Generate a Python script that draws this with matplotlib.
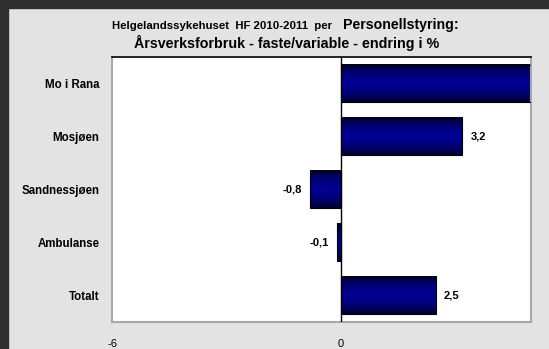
import numpy as np
import matplotlib
matplotlib.use("Agg")
import matplotlib.pyplot as plt
from matplotlib import font_manager
from matplotlib.colors import LinearSegmentedColormap
from matplotlib.patches import Rectangle

categories = ["Mo i Rana", "Mosjøen", "Sandnessjøen", "Ambulanse", "Totalt"]
values = [6.5, 3.2, -0.8, -0.1, 2.5]
value_labels = ["6,5", "3,2", "-0,8", "-0,1", "2,5"]
xticks = [-6, 0]

files = font_manager.findSystemFonts()
fr = [f for f in files if f.endswith('LiberationSans-Regular.ttf')]
fb = [f for f in files if f.endswith('LiberationSans-Bold.ttf')]

def fp(size, bold=False):
    lst = fb if bold else fr
    if lst:
        return font_manager.FontProperties(fname=lst[0], size=size)
    return font_manager.FontProperties(family='DejaVu Sans', size=size, weight='bold' if bold else 'normal')

W, H = 549, 349
fig = plt.figure(figsize=(W / 100, H / 100), dpi=100)
fig.patch.set_facecolor('#e3e3e3')

fig.patches.append(Rectangle((0, 0), 8 / W, 1, transform=fig.transFigure, color='#2f2f2f', zorder=-1))
fig.patches.append(Rectangle((0, 1 - 8 / H), 1, 8 / H, transform=fig.transFigure, color='#2f2f2f', zorder=-1))

left, right, top, bottom = 112, 531, 57, 322
ax = fig.add_axes([left / W, 1 - bottom / H, (right - left) / W, (bottom - top) / H])
ax.set_facecolor('white')

cmap = LinearSegmentedColormap.from_list('g', ['#000030', '#000078', '#000096', '#000078', '#000030'])
grad = np.linspace(0, 1, 64).reshape(-1, 1)
bh = 0.70
ypos = np.arange(len(categories))
for y, v in zip(ypos, values):
    x0, x1 = min(0, v), max(0, v)
    ax.imshow(grad, extent=[x0, x1, y + bh / 2, y - bh / 2], cmap=cmap, aspect='auto', zorder=2,
              interpolation='bilinear')
    ax.add_patch(Rectangle((x0, y - bh / 2), x1 - x0, bh, fill=False, edgecolor='black', lw=0.8, zorder=3))

ax.set_xlim(-6, 5)
ax.set_ylim(len(categories) - 0.5, -0.5)
ax.axvline(0, color='black', lw=1.0, zorder=4)

for y, v, lab in zip(ypos, values, value_labels):
    if v >= 0:
        ax.annotate(lab, (v, y), xytext=(8, 0), textcoords='offset pixels', ha='left', va='center',
                    fontproperties=fp(8, True), annotation_clip=True, clip_on=True)
    else:
        ax.annotate(lab, (v, y), xytext=(-8, 0), textcoords='offset pixels', ha='right', va='center',
                    fontproperties=fp(8, True))

ax.set_yticks(ypos)
ax.set_yticklabels(categories)
for t in ax.get_yticklabels():
    t.set_fontproperties(fp(8.3, True))
ax.set_xticks(xticks)
ax.set_xticklabels([str(t) for t in xticks])
for t in ax.get_xticklabels():
    t.set_fontproperties(fp(8))
ax.tick_params(axis='y', length=0, pad=9)
ax.tick_params(axis='x', length=0, pad=12)

for s in ['left', 'right', 'bottom']:
    ax.spines[s].set_color('#a8a8a8')
    ax.spines[s].set_linewidth(1.5)
ax.spines['top'].set_color('black')
ax.spines['top'].set_linewidth(1.2)

fig.text(112 / W, 1 - 26 / H, "Helgelandssykehuset  HF 2010-2011  per", fontproperties=fp(8.2, True),
         ha='left', va='center')
fig.text(343 / W, 1 - 25 / H, "Personellstyring:", fontproperties=fp(10.2, True), ha='left', va='center')
fig.text(287 / W, 1 - 43 / H, "Årsverksforbruk - faste/variable - endring i %", fontproperties=fp(10.3, True),
         ha='center', va='center')

fig.savefig('out.png', dpi=100, facecolor=fig.get_facecolor())
